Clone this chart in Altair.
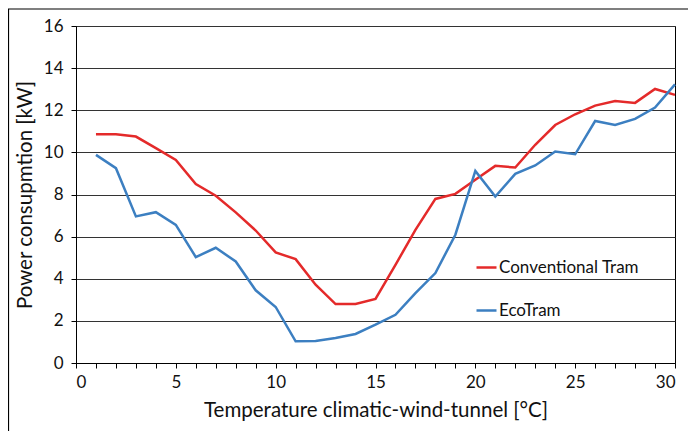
import altair as alt
import pandas as pd

temps = list(range(1, 31))
conventional = [10.86, 10.86, 10.75, 10.2, 9.64, 8.5, 7.94, 7.15, 6.29, 5.25,
                4.93, 3.72, 2.8, 2.8, 3.04, 4.66, 6.32, 7.79, 8.03, 8.7,
                9.36, 9.28, 10.36, 11.3, 11.81, 12.22, 12.44, 12.35, 13.01, 12.73]
ecotram = [9.88, 9.25, 6.96, 7.16, 6.56, 5.03, 5.47, 4.82, 3.45, 2.66,
           1.03, 1.05, 1.19, 1.38, 1.82, 2.29, 3.32, 4.27, 6.09, 9.12,
           7.9, 8.98, 9.38, 10.04, 9.91, 11.49, 11.3, 11.59, 12.13, 13.23]
series_names = ["Conventional Tram", "EcoTram"]
series_colors = ["#E42A2A", "#3C7FC1"]

rows = []
for t, c, e in zip(temps, conventional, ecotram):
    rows.append({"T": t, "P": c, "Series": series_names[0]})
    rows.append({"T": t, "P": e, "Series": series_names[1]})
df = pd.DataFrame(rows)

FONT = "Lato"

lines = alt.Chart(df).mark_line(strokeWidth=2.5).encode(
    x=alt.X("T:Q", scale=alt.Scale(domain=[0, 30], nice=False),
            axis=alt.Axis(title="Temperature climatic-wind-tunnel [°C]",
                          values=list(range(0, 31)),
                          labelExpr="datum.value % 5 == 0 ? datum.label : ''",
                          grid=False, tickSize=5, tickColor="#000", domainColor="#000",
                          labelFontSize=17, labelColor="#111", labelPadding=6,
                          titleFontSize=20.5, titleFontWeight="normal", titleColor="#111",
                          titlePadding=10, labelFont=FONT, titleFont=FONT)),
    y=alt.Y("P:Q", scale=alt.Scale(domain=[0, 16], nice=False),
            axis=alt.Axis(title="Power consupmtion [kW]", values=list(range(0, 17, 2)),
                          grid=True, gridColor="#333", gridWidth=1, tickSize=5,
                          tickColor="#000", domainColor="#000",
                          labelFontSize=17, labelColor="#111", labelPadding=8,
                          titleFontSize=20.5, titleFontWeight="normal", titleColor="#111",
                          titlePadding=8, labelFont=FONT, titleFont=FONT)),
    color=alt.Color("Series:N",
                    scale=alt.Scale(domain=series_names, range=series_colors),
                    legend=alt.Legend(title=None, orient="none", legendX=399, legendY=230,
                                      symbolType="stroke", symbolSize=400,
                                      symbolStrokeWidth=2.5, labelFontSize=17,
                                      labelFont=FONT, labelColor="#111", rowPadding=23,
                                      labelOffset=1)),
)

frame = alt.Chart(pd.DataFrame({"a": [0]})).mark_rect(
    fill=None, stroke="#000", strokeWidth=1.2
).encode(x=alt.value(-67.5), x2=alt.value(700), y=alt.value(-17), y2=alt.value(500))

chart = alt.layer(frame, lines).properties(
    width=599, height=337,
    autosize=alt.AutoSizeParams(type="none"),
    padding={"left": 68, "top": 18, "right": 13, "bottom": 68},
).configure_view(stroke="#000", strokeWidth=1)

chart.save("out.html", embed_options={"renderer": "svg", "actions": False})
